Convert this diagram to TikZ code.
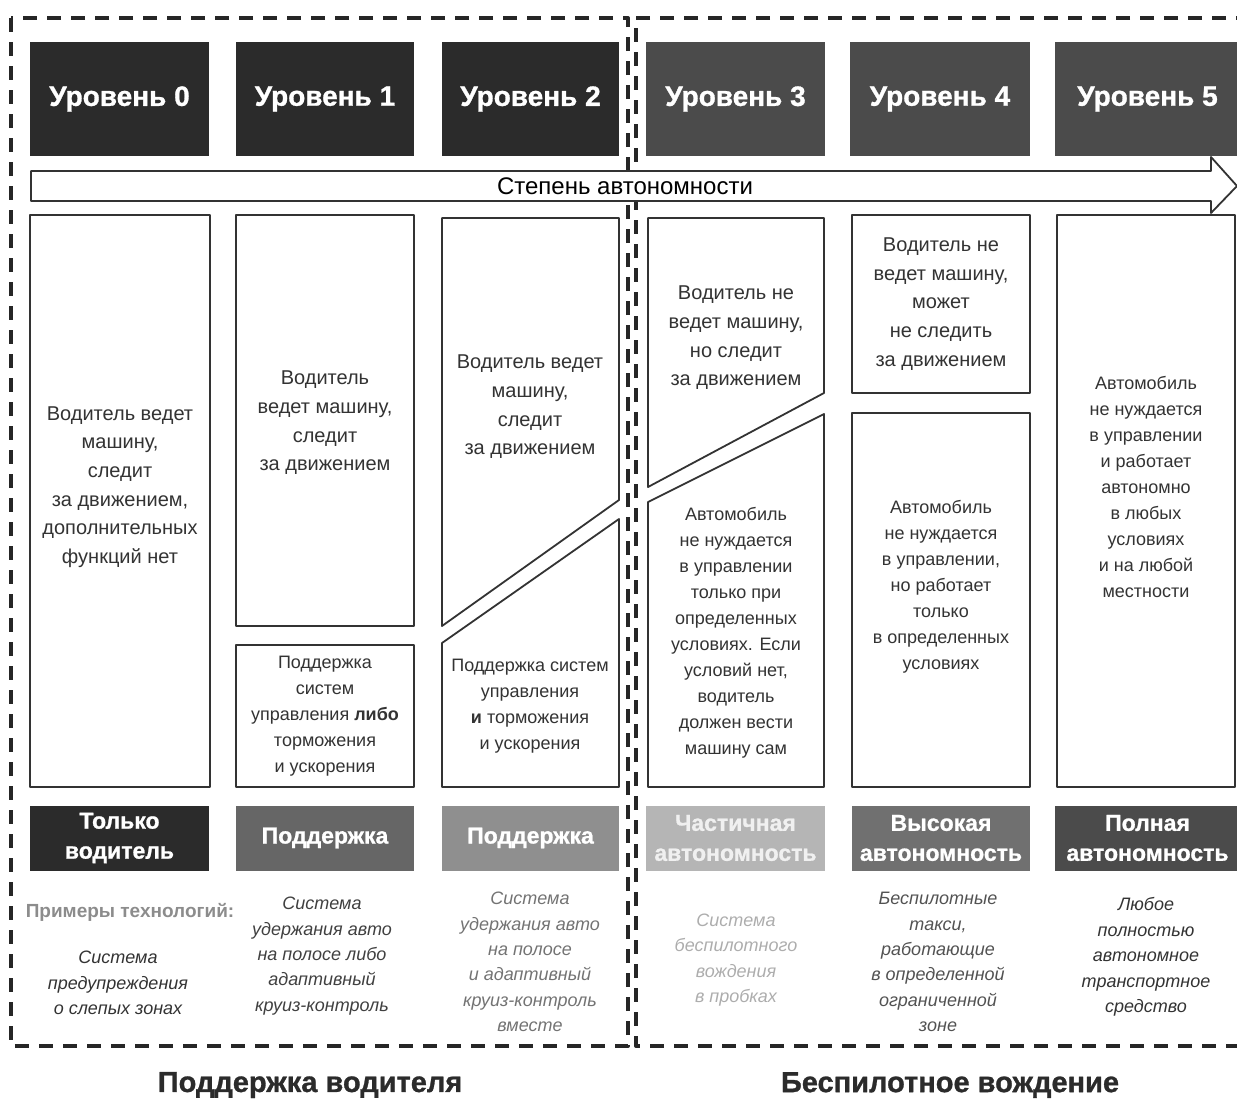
\documentclass[tikz,border=0pt]{standalone}
\usepackage{fontspec}
\setmainfont{Liberation Sans}
\newfontfamily\heavyfont{Liberation Sans}[FakeBold=1]
\definecolor{lvA}{HTML}{2B2B2B}
\definecolor{lvB}{HTML}{4B4B4B}
\definecolor{catB}{HTML}{666666}
\definecolor{catC}{HTML}{8F8F8F}
\definecolor{catD}{HTML}{B5B5B5}
\definecolor{catE}{HTML}{707070}
\definecolor{ink}{HTML}{333333}
\begin{document}
\begin{tikzpicture}[x=0.5pt,y=-0.5pt,line join=round,
	frame/.style={draw=black!85,line width=2pt,dash pattern=on 7pt off 5pt},
	boxline/.style={draw=black!80,line width=0.9pt},
	lvl/.style={fill=#1,text=white,inner sep=0pt,minimum height=57pt,font=\heavyfont\bfseries\fontsize{14}{16}\selectfont},
	cat/.style={fill=#1,inner sep=0pt,minimum height=32.5pt,align=center,font=\heavyfont\bfseries\fontsize{11.5}{15}\selectfont},
	drv/.style={align=center,text=ink,font=\fontsize{10}{14.3}\selectfont},
	car/.style={align=center,text=ink,font=\fontsize{9}{13}\selectfont},
	expl/.style={align=center,font=\itshape\fontsize{9}{12.7}\selectfont}]
	\useasboundingbox (0,0) rectangle (1237,1110);
	
	\draw[frame] (11,18) rectangle (628,1046);
	\draw[frame] (1250,18) -| (636,1046) -- (1250,1046);
	
	\foreach \i/\l/\r/\c in {0/30/209/lvA,1/236/414/lvA,2/442/619/lvA,3/646/825/lvB,4/850/1030/lvB,5/1055/1240/lvB}
		\node[lvl=\c,minimum width={(\r-\l)*0.5pt}] (lv\i) at ({(\l+\r)/2},99) {Уровень \i};
	
	\draw[boxline,fill=white] (31,171) -- (1211,171) -- (1211,157) -- (1237,186) -- (1211,213) -- (1211,201) -- (31,201) -- cycle;
	\node[font=\fontsize{12}{14}\selectfont] (scale) at (625,186) {Степень автономности};
	
	\draw[boxline,fill=white] (30,215) rectangle (210,787);
	\draw[boxline,fill=white] (236,215) rectangle (414,626) (236,645) rectangle (414,787);
	\draw[boxline,fill=white] (442,218) -- (619,218) -- (619,500) -- (442,626) -- cycle;
	\draw[boxline,fill=white] (442,643) -- (619,519) -- (619,787) -- (442,787) -- cycle;
	\draw[boxline,fill=white] (648,218) -- (824,218) -- (824,393) -- (648,487) -- cycle;
	\draw[boxline,fill=white] (648,502) -- (824,414) -- (824,787) -- (648,787) -- cycle;
	\draw[boxline,fill=white] (852,215) rectangle (1030,393) (852,413) rectangle (1030,787);
	\draw[boxline,fill=white] (1057,215) rectangle (1235,787);
	
	\node[drv] (t0) at (120,487) {Водитель ведет\\машину,\\следит\\за движением,\\дополнительных\\функций нет};
	\node[drv] (t1a) at (325,423) {Водитель\\ведет машину,\\следит\\за движением};
	\node[car] (t1b) at (325,716) {Поддержка\\систем\\управления \textbf{либо}\\торможения\\и ускорения};
	\node[drv] (t2a) at (530,407) {Водитель ведет\\машину,\\следит\\за движением};
	\node[car] (t2b) at (530,706) {Поддержка систем\\управления\\\textbf{и} торможения\\и ускорения};
	\node[drv] (t3a) at (736,338) {Водитель не\\ведет машину,\\но следит\\за движением};
	\node[car] (t3b) at (736,633) {Автомобиль\\не нуждается\\в управлении\\только при\\определенных\\условиях. Если\\условий нет,\\водитель\\должен вести\\машину сам};
	\node[drv] (t4a) at (941,304) {Водитель не\\ведет машину,\\может\\не следить\\за движением};
	\node[car] (t4b) at (941,587) {Автомобиль\\не нуждается\\в управлении,\\но работает\\только\\в определенных\\условиях};
	\node[car] (t5) at (1146,487) {Автомобиль\\не нуждается\\в управлении\\и работает\\автономно\\в любых\\условиях\\и на любой\\местности};
	
	\foreach \i/\l/\r/\c/\tc/\t in {0/30/209/lvA/white/{Только\\водитель},1/236/414/catB/white/Поддержка,2/442/619/catC/white/Поддержка,3/646/825/catD/black!6/{Частичная\\автономность},4/852/1030/catE/white/{Высокая\\автономность},5/1055/1240/lvB/white/{Полная\\автономность}}
		\node[cat=\c,text=\tc,minimum width={(\r-\l)*0.5pt}] (cat\i) at ({(\l+\r)/2},838) {\t};
	
	\node[font=\bfseries\fontsize{9.5}{12}\selectfont,text=black!45] (ex) at (130,912) {Примеры технологий:};
	\node[expl,text=ink] (e0) at (118,983) {Система\\предупреждения\\о слепых зонах};
	\node[expl,text=black!75] (e1) at (322,956) {Система\\удержания авто\\на полосе либо\\адаптивный\\круиз-контроль};
	\node[expl,text=black!55] (e2) at (530,962) {Система\\удержания авто\\на полосе\\и адаптивный\\круиз-контроль\\вместе};
	\node[expl,text=black!32] (e3) at (736,960) {Система\\беспилотного\\вождения\\в пробках};
	\node[expl,text=black!68] (e4) at (938,962) {Беспилотные\\такси,\\работающие\\в определенной\\ограниченной\\зоне};
	\node[expl,text=ink] (e5) at (1146,957) {Любое\\полностью\\автономное\\транспортное\\средство};
	
	\node[font=\heavyfont\bfseries\fontsize{14.5}{16}\selectfont,text=lvA] (capL) at (310,1085) {Поддержка водителя};
	\node[font=\heavyfont\bfseries\fontsize{14.5}{16}\selectfont,text=lvA] (capR) at (950,1085) {Беспилотное вождение};
\end{tikzpicture}
\end{document}
